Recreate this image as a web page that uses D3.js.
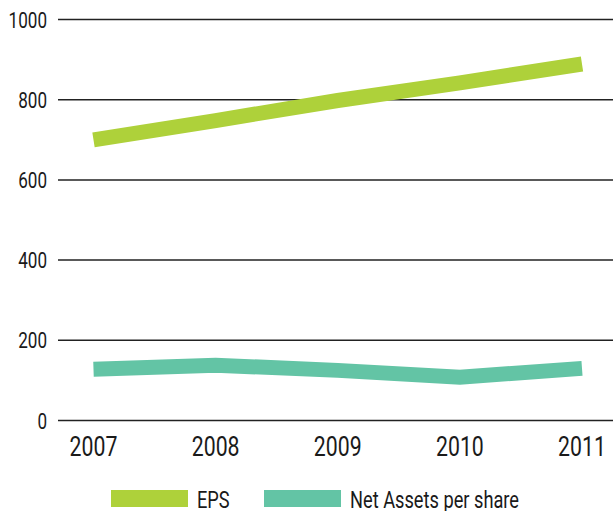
<!DOCTYPE html>
<html>
<head>
<meta charset="utf-8">
<script src="https://cdn.jsdelivr.net/npm/d3@7"></script>
<style>
  body { margin: 0; background: #fff; }
  svg text { font-family: Roboto, "Noto Sans", sans-serif; fill: #1a1a1a; }
</style>
</head>
<body>
<svg id="chart"></svg>
<script>
const years = ['2007', '2008', '2009', '2010', '2011']
const eps = [700, 748, 798, 842, 889]
const netAssets = [128, 138, 125, 108, 130]
const yTicks = [0, 200, 400, 600, 800, 1000]
const seriesNames = ['EPS', 'Net Assets per share']
const colors = ['#aed13a', '#63c4a5']

const width = 613
const height = 511
const plot = { left: 58, right: 613, top: 19.5, bottom: 420.5 }
const narrow = 0.76 // squeeze text to look like a condensed face

const svg = d3.select('#chart').attr('width', width).attr('height', height)

const x = d3.scalePoint().domain(years).range([93.5, 582])
const y = d3.scaleLinear().domain([0, 1000]).range([plot.bottom, plot.top])

const place = (tx, ty) => `translate(${tx},${ty}) scale(${narrow},1)`

// grid lines + y labels
const yAxis = svg.append('g')
yAxis.selectAll('line')
  .data(yTicks)
  .join('line')
  .attr('x1', plot.left)
  .attr('x2', plot.right)
  .attr('y1', d => y(d))
  .attr('y2', d => y(d))
  .attr('stroke', '#222')
  .attr('stroke-width', 1.5)

yAxis.selectAll('text')
  .data(yTicks)
  .join('text')
  .attr('transform', d => place(47, y(d) + 8))
  .attr('text-anchor', 'end')
  .attr('font-size', 22.5)
  .text(d => d)

// x labels
svg.append('g')
  .selectAll('text')
  .data(years)
  .join('text')
  .attr('transform', d => place(x(d), 456))
  .attr('text-anchor', 'middle')
  .attr('font-size', 28)
  .text(d => d)

const line = d3.line()
  .x((d, i) => x(years[i]))
  .y(d => y(d))

const series = [eps, netAssets]
svg.append('g')
  .selectAll('path')
  .data(series)
  .join('path')
  .attr('d', d => line(d))
  .attr('fill', 'none')
  .attr('stroke', (d, i) => colors[i])
  .attr('stroke-width', 15)
  .attr('stroke-linecap', 'butt')
  .attr('stroke-linejoin', 'miter')

// legend
const legendX = [111, 264]
const legend = svg.append('g')
  .selectAll('g')
  .data(seriesNames)
  .join('g')
  .attr('transform', (d, i) => `translate(${legendX[i]},490)`)

legend.append('rect')
  .attr('width', 77)
  .attr('height', 17)
  .attr('fill', (d, i) => colors[i])

legend.append('text')
  .attr('transform', place(86, 18))
  .attr('font-size', 24)
  .text(d => d)
</script>
</body>
</html>
